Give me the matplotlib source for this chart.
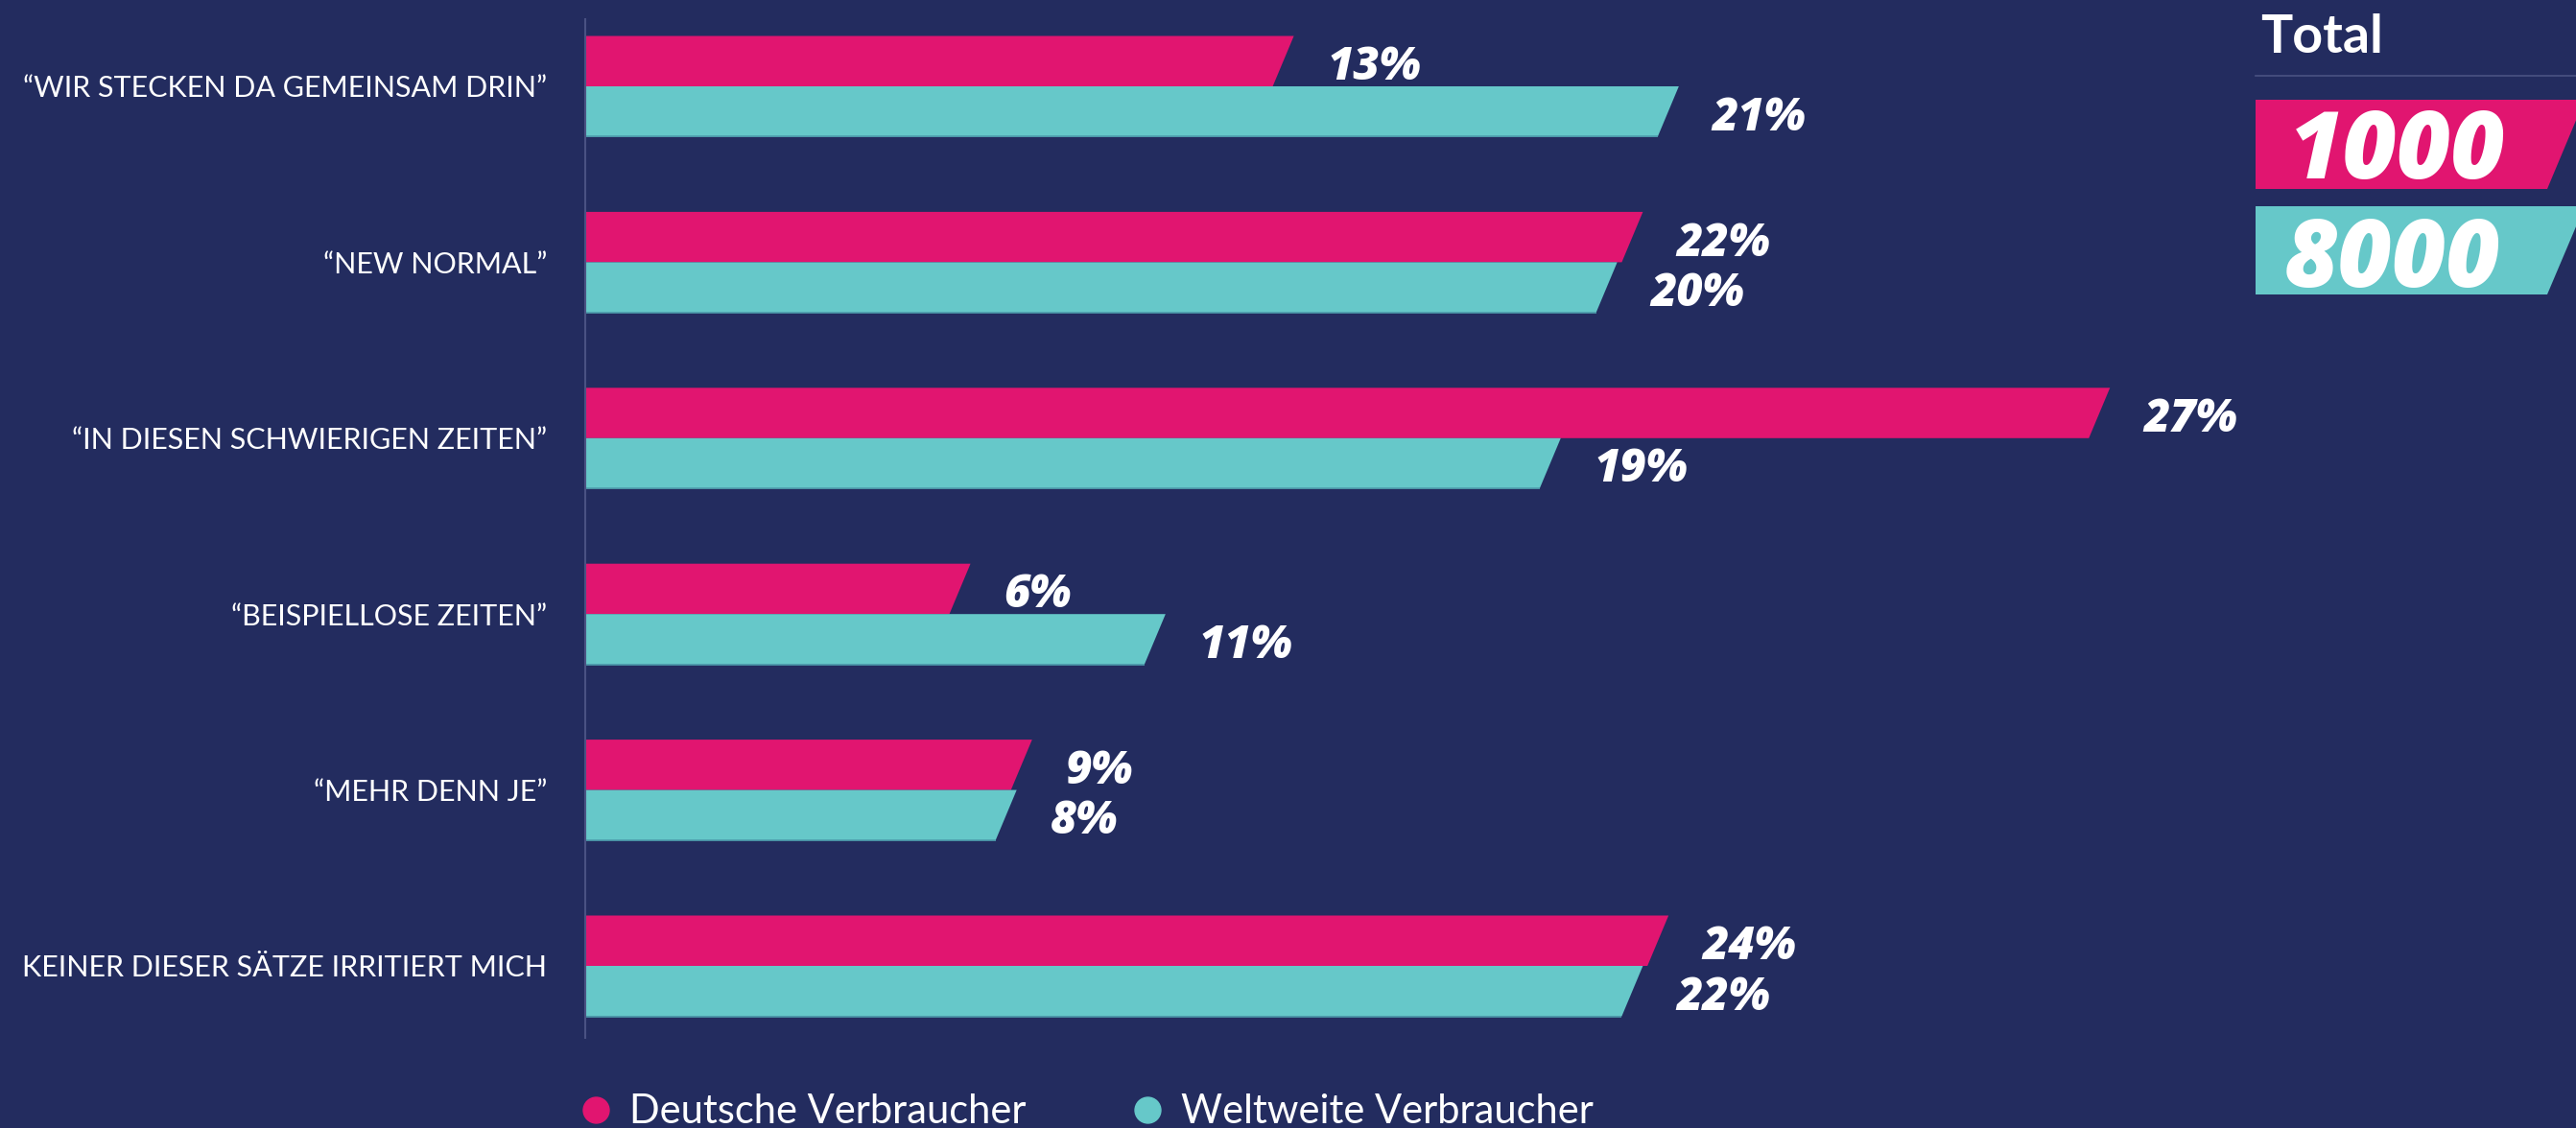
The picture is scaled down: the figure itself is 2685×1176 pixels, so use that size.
import matplotlib
matplotlib.use("Agg")
import matplotlib.pyplot as plt
from matplotlib.patches import Polygon
from matplotlib.lines import Line2D

plt.rcParams['font.family'] = ['Lato', 'DejaVu Sans']
NUMFONT = ['Open Sans', 'DejaVu Sans']

# ---- data ----
categories = [
    "\u201cWIR STECKEN DA GEMEINSAM DRIN\u201d",
    "\u201cNEW NORMAL\u201d",
    "\u201cIN DIESEN SCHWIERIGEN ZEITEN\u201d",
    "\u201cBEISPIELLOSE ZEITEN\u201d",
    "\u201cMEHR DENN JE\u201d",
    "KEINER DIESER S\u00c4TZE IRRITIERT MICH",
]
# printed percentages
de_pct = [13, 22, 27, 6, 9, 24]
ww_pct = [21, 20, 19, 11, 8, 22]
# bar lengths as drawn in the source graphic (in % units)
de_bar = [13.6, 20.4, 29.5, 7.3, 8.5, 20.9]
ww_bar = [21.1, 19.9, 18.8, 11.1, 8.2, 20.4]
series_names = ["Deutsche Verbraucher", "Weltweite Verbraucher"]
totals = [1000, 8000]
total_title = "Total"

# ---- style ----
BG = "#232C5F"
PINK = "#E11570"
TEAL = "#66C8C9"
AXIS = "#4A5283"

W, H = 2685, 1176
fig = plt.figure(figsize=(W / 100, H / 100), dpi=100, facecolor=BG)

def fx(px):
    return px / W

def fy(py):
    return 1 - py / H

# main axes
ax_left, ax_right, ax_top, ax_bottom = 610, 2340, 20, 1082
ax = fig.add_axes([fx(ax_left), fy(ax_bottom), (ax_right - ax_left) / W, (ax_bottom - ax_top) / H])
ax.set_facecolor(BG)
px_per_unit = 53.5
slot = 183.4
ax.set_xlim(0, (ax_right - ax_left) / px_per_unit)
ax.set_ylim(len(categories) - 1 + (ax_bottom - 1007) / slot, -(90 - ax_top) / slot)

h = 52.5 / slot
sl = 22 / px_per_unit

for i in range(len(categories)):
    c = i
    v = de_bar[i]
    ax.add_patch(Polygon([(0, c - h), (v + sl / 2, c - h), (v - sl / 2, c), (0, c)],
                         closed=True, facecolor=PINK, edgecolor='none'))
    v2 = ww_bar[i]
    ax.add_patch(Polygon([(0, c), (v2 + sl / 2, c), (v2 - sl / 2, c + h), (0, c + h)],
                         closed=True, facecolor=TEAL, edgecolor='none'))
    ax.plot([0, v2 - sl / 2], [c + h, c + h], color="#4E9FAE", lw=1.2, solid_capstyle='butt')
    ax.annotate(f"{de_pct[i]}%", xy=(v, c - h / 2), xytext=(33, -14), textcoords='offset points',
                ha='left', va='baseline', color='white', fontsize=34, fontweight=800,
                fontstyle='italic', family=NUMFONT)
    ax.annotate(f"{ww_pct[i]}%", xy=(v2, c + h / 2), xytext=(33, -14), textcoords='offset points',
                ha='left', va='baseline', color='white', fontsize=34, fontweight=800,
                fontstyle='italic', family=NUMFONT)

ax.set_yticks(range(len(categories)))
ax.set_yticklabels(categories, color='white', fontsize=22)
ax.tick_params(axis='y', length=0, pad=28.8)
ax.set_xticks([])
for s in ['top', 'right', 'bottom']:
    ax.spines[s].set_visible(False)
ax.spines['left'].set_color(AXIS)
ax.spines['left'].set_linewidth(1.5)

# ---- Total box ----
fig.text(fx(2356), fy(55), total_title, color='white', fontsize=40, fontweight='bold',
         ha='left', va='baseline')
fig.add_artist(Line2D([fx(2351), 1.0], [fy(79), fy(79)], color=AXIS, lw=1.2,
                      transform=fig.transFigure))
box_specs = [(104, 197, PINK, 2386, 186), (215, 307, TEAL, 2381, 299)]
for (t, b, col, tx, tb), val in zip(box_specs, totals):
    fig.add_artist(Polygon([(fx(2351), fy(t)), (fx(2694), fy(t)), (fx(2655), fy(b)), (fx(2351), fy(b))],
                           closed=True, facecolor=col, edgecolor='none', transform=fig.transFigure))
    fig.text(fx(tx), fy(tb), str(val), color='white', fontsize=70, fontweight=800,
             fontstyle='italic', ha='left', va='baseline', family=NUMFONT)

# ---- legend ----
for (cx, tx), name, col in zip([(621, 656), (1196, 1231)], series_names, [PINK, TEAL]):
    fig.add_artist(Line2D([fx(cx)], [fy(1157)], marker='o', ms=19.4, color=col, lw=0,
                          transform=fig.transFigure))
    fig.text(fx(tx), fy(1171), name, color='white', fontsize=30, ha='left', va='baseline')

fig.savefig("out.png", dpi=100, facecolor=BG)
